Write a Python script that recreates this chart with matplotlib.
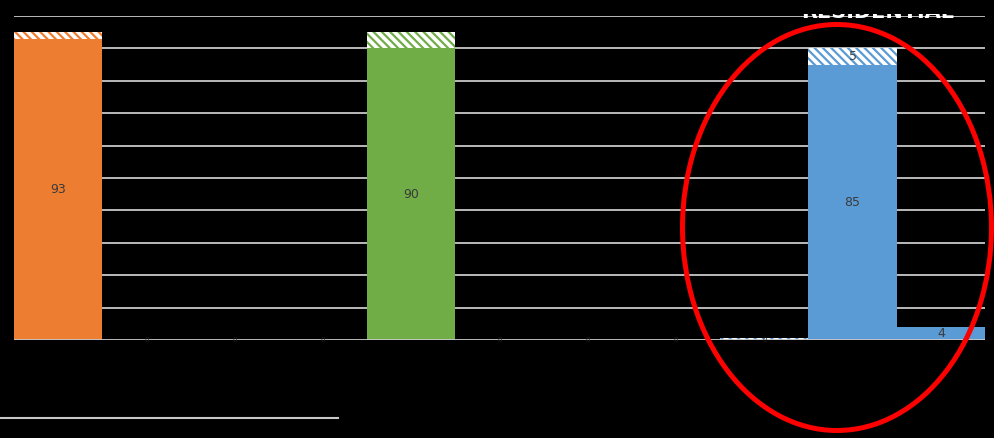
import matplotlib
matplotlib.use("Agg")
import matplotlib.pyplot as plt
from matplotlib.patches import Ellipse
from matplotlib.lines import Line2D

# ---- data ----
slots = list(range(11))
base_values = [93, 0, 0, 0, 90, 0, 0, 0, 0, 85, 4]
top_values = [2, 0, 0, 0, 5, 0, 0, 0, 0.6, 5, 0]
bar_colors = ["#ED7D31"] * 4 + ["#70AD47"] * 4 + ["#5B9BD5"] * 3
base_labels = ["93", "0", "0", "0", "90", "0", "0", "0", "0", "85", "4"]
top_labels = ["", "", "", "", "", "", "", "", "", "5", ""]
y_ticks = list(range(0, 101, 10))
title_text = "RESIDENTIAL"

W, H = 994, 438
plt.rcParams['hatch.linewidth'] = 1.6
fig = plt.figure(figsize=(W / 100, H / 100), dpi=100, facecolor="black")
ax = fig.add_axes([14 / W, (H - 340) / H, (985 - 14) / W, (340 - 16) / H])
ax.set_facecolor("black")
ax.set_xlim(-0.5, 10.5)
ax.set_ylim(0, 100)

for y in y_ticks:
    ax.axhline(y, color="#C8C8C8", lw=1.3, zorder=1 if y > 0 else 4)

ax.bar(slots, base_values, width=1.0, color=bar_colors, linewidth=0, zorder=2)
for i, (b, t) in enumerate(zip(base_values, top_values)):
    if t > 0:
        ax.bar(i, t, bottom=b, width=1.0, facecolor="white",
               edgecolor=bar_colors[i], hatch="\\\\\\\\", linewidth=0, zorder=2)

for i, lab in enumerate(base_labels):
    if base_values[i] > 0:
        ax.text(i, base_values[i] / 2, lab, ha="center", va="center",
                fontsize=9, color="#3A3A3A", zorder=5)
    else:
        ax.text(i, 0, lab, ha="center", va="center", fontsize=5,
                color="#202020", zorder=5)
for i, lab in enumerate(top_labels):
    if lab:
        ax.text(i, base_values[i] + top_values[i] / 2, lab, ha="center",
                va="center", fontsize=9, color="#404040", zorder=5)

for s in ax.spines.values():
    s.set_visible(False)
ax.set_xticks([])
ax.set_yticks([])

# heading at top right; an opaque strip above hides all but the letter bottoms
ax.text(878, H - 18, title_text, transform=None, ha="center", va="baseline",
        fontsize=15, color="white", fontweight="bold", clip_on=False)
ax_cover = fig.add_axes([0, (H - 14) / H, 1, 14 / H], zorder=5)
ax_cover.set_facecolor("black")
ax_cover.set_xticks([])
ax_cover.set_yticks([])
for s in ax_cover.spines.values():
    s.set_visible(False)

# line at the bottom left
fig.add_artist(Line2D([0, 338 / W], [(H - 418) / H] * 2, transform=fig.transFigure,
                      color="#C8C8C8", lw=1.5))

# red highlight ellipse
fig.add_artist(Ellipse((837 / W, (H - 227.5) / H), 309 / W, 406 / H,
                       transform=fig.transFigure, facecolor="none",
                       edgecolor="#FF0000", lw=3.6, zorder=20))

fig.savefig("out.png", dpi=100, facecolor="black")
